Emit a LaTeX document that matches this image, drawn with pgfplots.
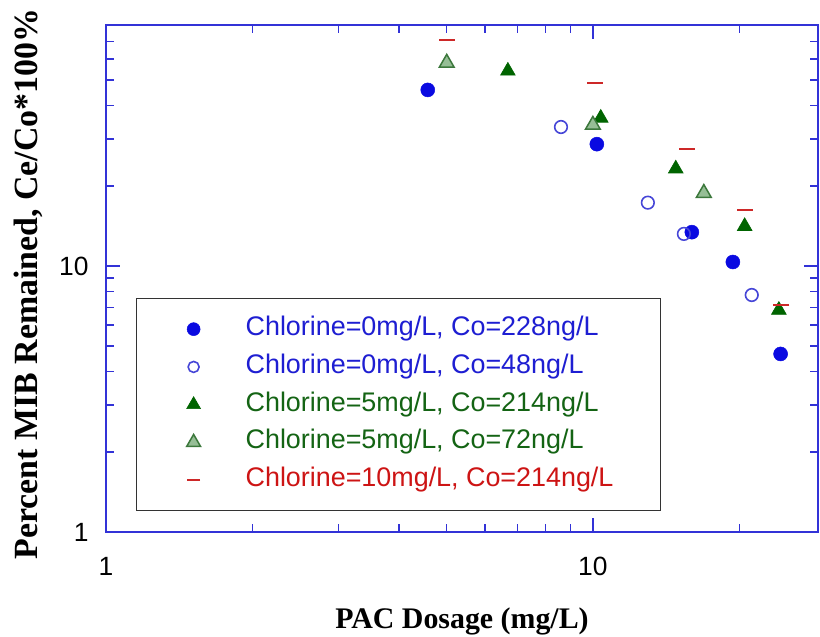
\documentclass[border=0pt]{standalone}
\usepackage{fontspec}
\setmainfont{Liberation Serif}
\setsansfont{Liberation Sans}
\usepackage{pgfplots}
\pgfplotsset{compat=1.18}
\definecolor{axblue}{RGB}{50,50,215}
\definecolor{mblue}{RGB}{10,10,225}
\definecolor{oblue}{RGB}{70,70,215}
\definecolor{dgreen}{RGB}{0,100,0}
\definecolor{lgfill}{RGB}{150,190,150}
\definecolor{lgdraw}{RGB}{60,120,60}
\definecolor{mred}{RGB}{205,40,40}
\definecolor{tblue}{RGB}{30,30,210}
\definecolor{tgreen}{RGB}{20,100,20}
\definecolor{tred}{RGB}{205,20,20}
\pgfplotsset{
  mylegimg/.style={legend image code/.code={%
    \path[draw=none, fill=none] (0bp,-9bp) rectangle (109bp,9bp);
    \draw[##1, mark size=#1] plot coordinates {(57bp,0bp)};}}
}
\begin{document}
\begin{tikzpicture}
\useasboundingbox (-106bp,-105bp) rectangle (714bp,532bp);
\begin{axis}[
  at={(0,0)}, anchor=south west,
  scale only axis, width=712bp, height=507bp,
  xmode=log, ymode=log,
  xmin=1, xmax=29, ymin=1, ymax=80.5,
  axis line style={axblue, line width=1.3bp},
  every tick/.style={axblue, line width=1.3bp},
  major tick length=14bp, minor tick length=8bp,
  xtick={1,10}, xticklabels={1,10},
  ytick={1,10}, yticklabels={1,10},
  minor xtick={2,3,4,5,6,7,8,9,20},
  minor ytick={2,3,4,5,6,7,8,9,20,30,40,50,60,70,80},
  tick label style={font=\sffamily\fontsize{26.5}{30}\selectfont, black},
  xticklabel style={yshift=-22bp},
  yticklabel style={xshift=-14bp},
  xlabel={PAC Dosage (mg/L)},
  xlabel style={font=\rmfamily\bfseries\fontsize{30}{34}\selectfont,
    at={(axis description cs:0.5,-0.191)}, anchor=base},
  ylabel={Percent MIB Remained, Ce/Co*100\%},
  every axis y label/.style={font=\rmfamily\bfseries\fontsize{34}{38}\selectfont,
    at={(axis description cs:-0.0969,0.489)}, rotate=90, anchor=base},
  legend cell align=left,
  legend style={at={(axis description cs:0.0421,0.4615)}, anchor=north west,
    draw=black!80, line width=1.3bp, inner xsep=0bp, inner ysep=18bp,
    row sep=12.75bp, column sep=0bp,
    nodes={inner sep=0bp, text height=19bp, text depth=6bp,
      font=\sffamily\fontsize{27}{30}\selectfont}},
]
\addplot[only marks, mark=*, mark size=7bp, mark options={fill=mblue, draw=mblue, line width=0.5bp}, mylegimg=6.5bp]
  coordinates {(4.58,45.9) (10.19,28.7) (15.97,13.4) (19.39,10.35) (24.3,4.67)};
\addlegendentry{\makebox[415bp][l]{\textcolor{tblue}{Chlorine=0mg/L, Co=228ng/L}}}
\addplot[only marks, mark=o, mark size=6.3bp, mark options={draw=oblue, line width=1.6bp}, mylegimg=5.5bp]
  coordinates {(8.60,33.3) (12.97,17.3) (15.38,13.2) (21.2,7.78)};
\addlegendentry{\makebox[415bp][l]{\textcolor{tblue}{Chlorine=0mg/L, Co=48ng/L}}}
\addplot[only marks, mark=triangle*, mark size=8.5bp, mark options={fill=dgreen, draw=dgreen, line width=0.6bp}, mylegimg=8bp]
  coordinates {(6.69,54.1) (10.38,36.0) (14.8,23.2) (20.5,14.1) (24.1,6.83)};
\addlegendentry{\makebox[415bp][l]{\textcolor{tgreen}{Chlorine=5mg/L, Co=214ng/L}}}
\addplot[only marks, mark=triangle*, mark size=8.5bp, mark options={fill=lgfill, draw=lgdraw, line width=1.5bp}, mylegimg=8bp]
  coordinates {(5.01,58.0) (10.0,33.9) (16.9,18.8)};
\addlegendentry{\makebox[415bp][l]{\textcolor{tgreen}{Chlorine=5mg/L, Co=72ng/L}}}
\addplot[only marks, mark=-, mark size=8bp, mark options={draw=mred, line width=2bp}, mylegimg=6.5bp]
  coordinates {(5.01,70.7) (10.1,48.8) (15.6,27.5) (20.5,16.2) (24.4,7.13)};
\addlegendentry{\makebox[415bp][l]{\textcolor{tred}{Chlorine=10mg/L, Co=214ng/L}}}
\end{axis}
\end{tikzpicture}
\end{document}
